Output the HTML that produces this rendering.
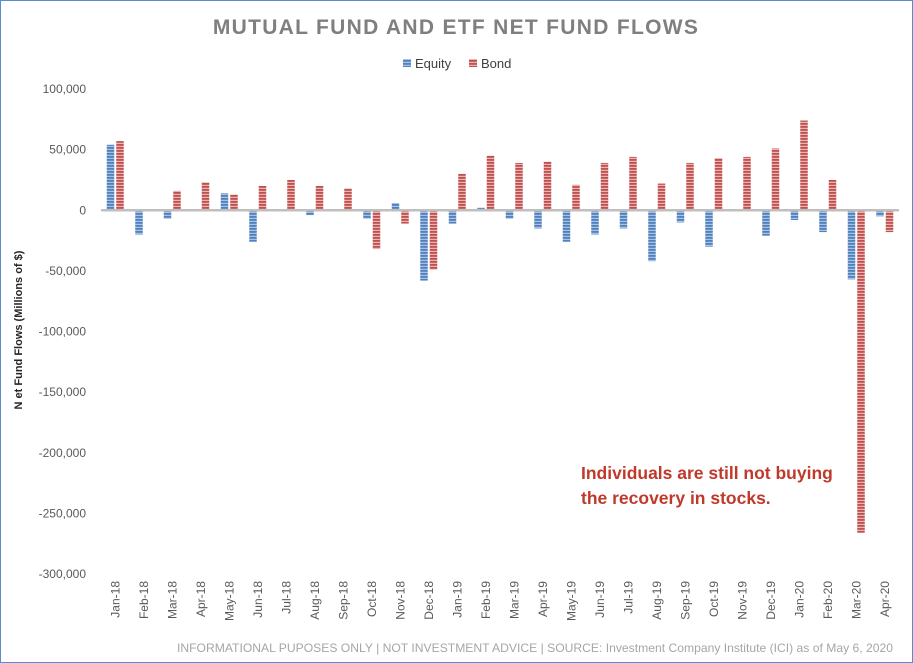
<!DOCTYPE html>
<html><head><meta charset="utf-8"><style>
body{margin:0;background:#fff;}
svg{display:block;font-family:"Liberation Sans",sans-serif;}
</style></head><body>
<svg width="913" height="663" xmlns="http://www.w3.org/2000/svg">
<defs>
<pattern id="pe" width="4" height="3" patternUnits="userSpaceOnUse"><rect width="4" height="3" fill="#a9c1e3"/><rect width="4" height="1.8" fill="#4f81bd"/></pattern>
<pattern id="pb" width="4" height="3" patternUnits="userSpaceOnUse"><rect width="4" height="3" fill="#e8b5b4"/><rect width="4" height="1.8" fill="#c0504d"/></pattern>
</defs>
<rect x="0.5" y="0.5" width="912" height="662" fill="#fff" stroke="#5b8bd0"/>
<text x="456" y="34" text-anchor="middle" font-size="21" font-weight="bold" fill="#7f7f7f" letter-spacing="1.3">MUTUAL FUND AND ETF NET FUND FLOWS</text>
<g>
<rect x="403" y="59" width="8" height="8" fill="url(#pe)"/>
<text x="415" y="68" font-size="13" fill="#404040">Equity</text>
<rect x="469" y="59" width="8" height="8" fill="url(#pb)"/>
<text x="481" y="68" font-size="13" fill="#404040">Bond</text>
</g>
<text transform="translate(22,330) rotate(-90)" text-anchor="middle" font-size="11" font-weight="bold" fill="#262626">N et Fund Flows (Millions of $)</text>
<g id="yticks"></g>
<g id="bars"></g>
<g id="xticks"></g>
<text x="581" y="479" font-size="17.5" font-weight="bold" fill="#c0392b">Individuals are still not buying</text>
<text x="581" y="504" font-size="17.5" font-weight="bold" fill="#c0392b">the recovery in stocks.</text>
<text x="893" y="652" text-anchor="end" font-size="12" fill="#a6a6a6" textLength="716" lengthAdjust="spacingAndGlyphs">INFORMATIONAL PUPOSES ONLY | NOT INVESTMENT ADVICE | SOURCE: Investment Company Institute (ICI) as of May 6, 2020</text>
</svg>
<script>
const categories=["Jan-18","Feb-18","Mar-18","Apr-18","May-18","Jun-18","Jul-18","Aug-18","Sep-18","Oct-18","Nov-18","Dec-18","Jan-19","Feb-19","Mar-19","Apr-19","May-19","Jun-19","Jul-19","Aug-19","Sep-19","Oct-19","Nov-19","Dec-19","Jan-20","Feb-20","Mar-20","Apr-20"];
const equity=[54000,-20000,-7000,0,14000,-26000,0,-4000,0,-7000,6000,-58000,-11000,2000,-7000,-15000,-26000,-20000,-15000,-42000,-10000,-30000,0,-21000,-8000,-18000,-57000,-5000];
const bond=[57000,1000,16000,23000,13000,20000,25000,20000,18000,-32000,-11000,-49000,30000,45000,39000,40000,21000,39000,44000,22000,39000,43000,44000,51000,74000,25000,-266000,-18000];
const yTicks=[100000,50000,0,-50000,-100000,-150000,-200000,-250000,-300000];
const yTickLabels=["100,000","50,000","0","-50,000","-100,000","-150,000","-200,000","-250,000","-300,000"];
const NS="http://www.w3.org/2000/svg";
const y0=89,y1=574,vmax=100000,vmin=-300000;
function y(v){return y0+(vmax-v)/(vmax-vmin)*(y1-y0);}
const xl=101,xr=899;
const step=(xr-xl)/categories.length;
function xc(i){return xl+step*(i+0.5);}
function mk(tag,attrs,parent){const e=document.createElementNS(NS,tag);for(const k in attrs)e.setAttribute(k,attrs[k]);parent.appendChild(e);return e;}
const yg=document.getElementById('yticks');
yTicks.forEach((v,i)=>{const t=mk('text',{x:86,y:y(v)+4,'text-anchor':'end','font-size':12,fill:'#595959'},yg);t.textContent=yTickLabels[i];

});
const bg=document.getElementById('bars');
const bw=7.5;
categories.forEach((c,i)=>{
 const cx=xc(i);
 [[equity[i],'url(#pe)',cx-bw-1,'bar-equity'],[bond[i],'url(#pb)',cx+1,'bar-bond']].forEach(([v,f,x,n])=>{
  if(v===0)return;
  const top=Math.min(y(v),y(0)),h=Math.abs(y(v)-y(0));
  const r=mk('rect',{x:x,y:top,width:bw,height:h,fill:f},bg);
  
  
 });
 const xg=document.getElementById('xticks');
 const t=mk('text',{transform:`translate(${cx+4},581) rotate(-90)`,'text-anchor':'end','font-size':12,fill:'#595959'},xg);
 t.textContent=c;
 
 
});
const zl=mk('line',{x1:xl,x2:xr,y1:y(0),y2:y(0),stroke:'#bfbfbf','stroke-width':2.5},bg);


</script>
</body></html>
